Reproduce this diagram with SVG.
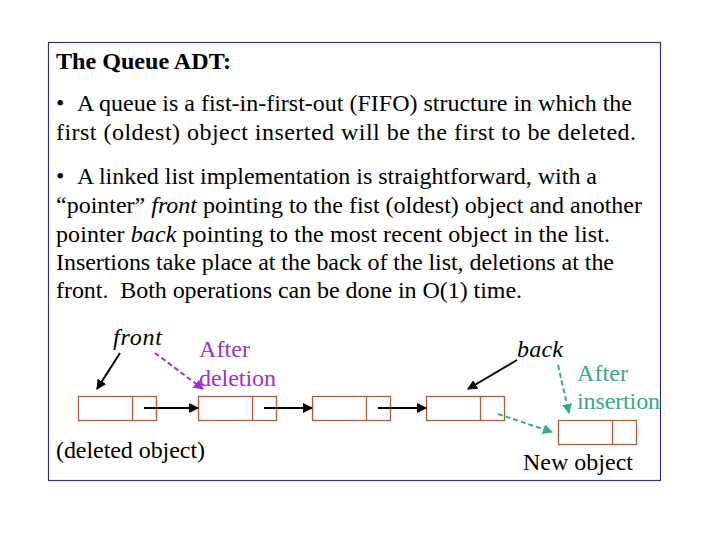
<svg xmlns="http://www.w3.org/2000/svg" width="720" height="540" viewBox="0 0 720 540">
<style>
text{font-family:"Liberation Serif","Times New Roman",serif;font-size:24px;fill:#000}
.it{font-style:italic}
.pu{fill:#9933cc}
.te{fill:#33aa88}
.box{fill:#fff;stroke:#b35a3a;stroke-width:1.3}
.ln{stroke:#000;stroke-width:2;fill:none}
</style>
<defs>
<marker id="ab" viewBox="0 0 10 10" refX="9" refY="5" markerWidth="5" markerHeight="5" orient="auto"><path d="M0,0L10,5L0,10z" fill="#000"/></marker>
<marker id="ap" viewBox="0 0 10 10" refX="9" refY="5" markerWidth="5" markerHeight="5" orient="auto"><path d="M0,0L10,5L0,10z" fill="#9933cc"/></marker>
<marker id="at" viewBox="0 0 10 10" refX="9" refY="5" markerWidth="5" markerHeight="5" orient="auto"><path d="M0,0L10,5L0,10z" fill="#33aa88"/></marker>
</defs>
<rect x="0" y="0" width="720" height="540" fill="#fff"/>
<rect x="48.5" y="42.5" width="612" height="438" fill="#fff" stroke="#333366" stroke-width="1.2"/>
<g id="text">
<text x="56" y="69" font-weight="bold" textLength="175" lengthAdjust="spacingAndGlyphs">The Queue ADT:</text>
<text x="56" y="111">•</text>
<text x="77" y="111" textLength="555" lengthAdjust="spacing">A queue is a fist-in-first-out (FIFO) structure in which the</text>
<text x="56" y="140" textLength="580" lengthAdjust="spacing">first (oldest) object inserted will be the first to be deleted.</text>
<text x="56" y="184">•</text>
<text x="77" y="184" textLength="520" lengthAdjust="spacing">A linked list implementation is straightforward, with a</text>
<text x="56" y="213" textLength="586" lengthAdjust="spacing">“pointer” <tspan class="it">front</tspan> pointing to the fist (oldest) object and another</text>
<text x="56" y="242" textLength="554" lengthAdjust="spacing">pointer <tspan class="it">back</tspan> pointing to the most recent object in the list.</text>
<text x="56" y="270" textLength="558" lengthAdjust="spacing">Insertions take place at the back of the list, deletions at the</text>
<text x="56" y="298" textLength="466" lengthAdjust="spacing">front.&#160; Both operations can be done in O(1) time.</text>
</g>
<g id="node1"><rect class="box" x="78.5" y="396.5" width="78" height="24"/><line class="box" x1="132.5" y1="396.5" x2="132.5" y2="420.5"/></g>
<g id="node2"><rect class="box" x="198.5" y="396.5" width="78" height="24"/><line class="box" x1="252.5" y1="396.5" x2="252.5" y2="420.5"/></g>
<g id="node3"><rect class="box" x="312.5" y="396.5" width="78" height="24"/><line class="box" x1="366.5" y1="396.5" x2="366.5" y2="420.5"/></g>
<g id="node4"><rect class="box" x="426.5" y="396.5" width="78" height="24"/><line class="box" x1="480.5" y1="396.5" x2="480.5" y2="420.5"/></g>
<g id="node5"><rect class="box" x="558.5" y="420.5" width="78" height="24"/><line class="box" x1="612.5" y1="420.5" x2="612.5" y2="444.5"/></g>
<g id="labels">
<text x="113" y="345" class="it" textLength="49" lengthAdjust="spacing">front</text>
<text x="199" y="357" class="pu" textLength="51" lengthAdjust="spacing">After</text>
<text x="199" y="386" class="pu" textLength="77" lengthAdjust="spacing">deletion</text>
<text x="517" y="357" class="it" textLength="46" lengthAdjust="spacing">back</text>
<text x="577" y="381" class="te" textLength="51" lengthAdjust="spacing">After</text>
<text x="577" y="409" class="te" textLength="83" lengthAdjust="spacing">insertion</text>
<text x="56" y="458" textLength="149" lengthAdjust="spacing">(deleted object)</text>
<text x="523" y="470" textLength="110" lengthAdjust="spacing">New object</text>
</g>
<g id="connectors">
<line class="ln" x1="144" y1="408" x2="198" y2="408" marker-end="url(#ab)"/>
<line class="ln" x1="264" y1="408" x2="312" y2="408" marker-end="url(#ab)"/>
<line class="ln" x1="378" y1="408" x2="426" y2="408" marker-end="url(#ab)"/>
<line class="ln" x1="120" y1="353" x2="97" y2="389" marker-end="url(#ab)"/>
<line class="ln" x1="517" y1="360" x2="468" y2="389" marker-end="url(#ab)"/>
<line x1="155" y1="353" x2="203" y2="389" stroke="#9933cc" stroke-width="2" stroke-dasharray="5,3" marker-end="url(#ap)"/>
<line x1="558" y1="365" x2="569" y2="413" stroke="#33aa88" stroke-width="2" stroke-dasharray="5,3" marker-end="url(#at)"/>
<line x1="498" y1="414" x2="552" y2="432" stroke="#33aa88" stroke-width="2" stroke-dasharray="5,3" marker-end="url(#at)"/>
</g>
</svg>
